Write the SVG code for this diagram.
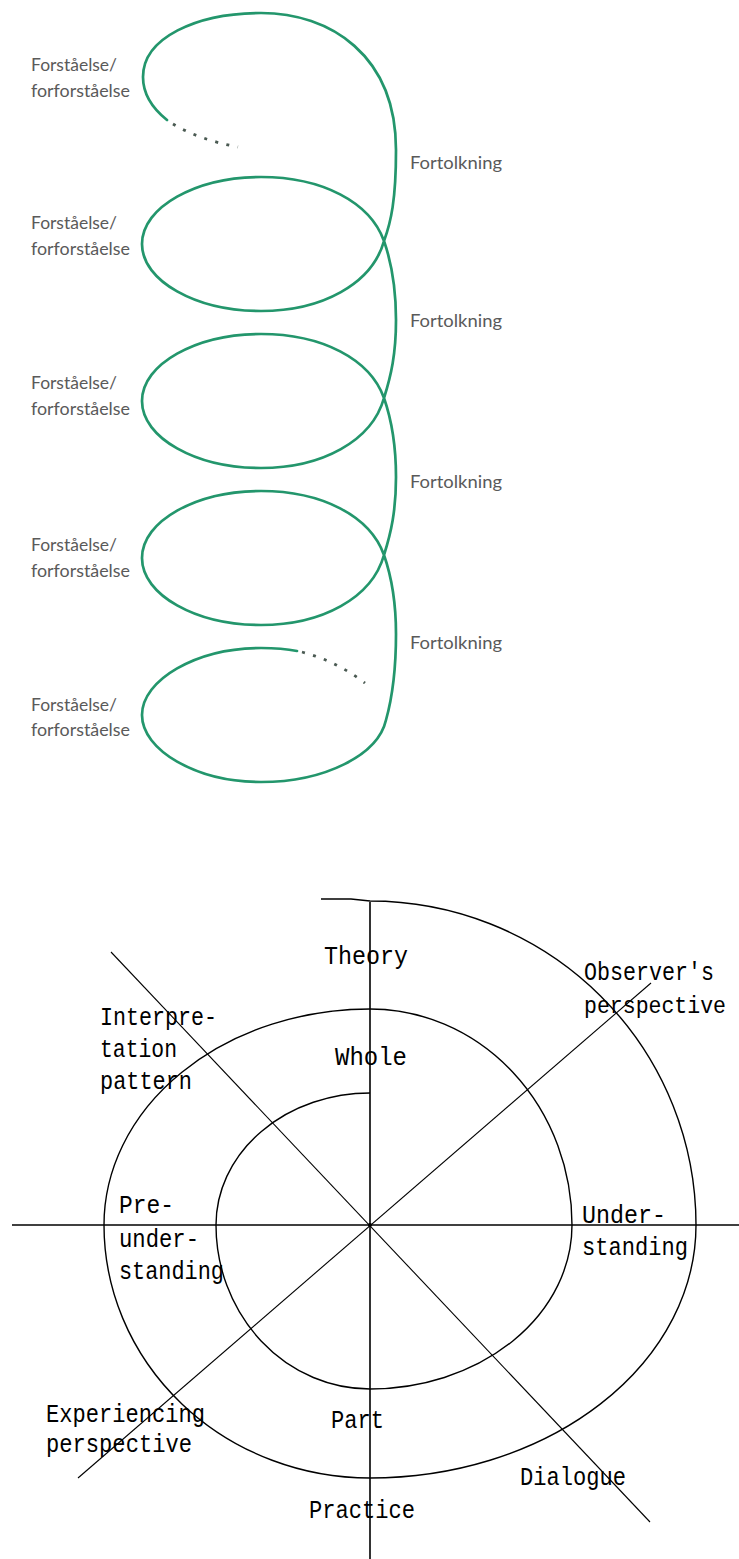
<svg xmlns="http://www.w3.org/2000/svg" width="739" height="1559" viewBox="0 0 739 1559">
<style>
.coil{fill:none;stroke:#23966c;stroke-width:2.7;stroke-linecap:round;stroke-linejoin:round}
.dots{fill:none;stroke:#4a5a52;stroke-width:2.8;stroke-dasharray:3 8.5}
.lbl{font-family:Lato,"Noto Sans","DejaVu Sans",sans-serif;font-size:16.5px;fill:#5a5a5a}
.ax{fill:none;stroke:#000;stroke-width:1.6}
.arc{fill:none;stroke:#000;stroke-width:1.4}
.diag{fill:none;stroke:#000;stroke-width:1.1}
.mono{font-family:"Liberation Mono","DejaVu Sans Mono",monospace;font-size:25px;fill:#000}
.edge{font-size:23.2px}
</style>
<rect width="739" height="1559" fill="#fff"/>

<g id="coil-diagram">
  <g id="coil">
    <path class="coil" d="M 167 120 C 152 108 143 95 143 77 C 143 38 196 13 261 13 C 330 13 396 55 396 150 C 396 200 391 222 384 241
      C 372 284 322 311 261 311 C 196 311 142 281 142 244 C 142 207 196 177 261 177 C 322 177 370 202 384 241
      C 392 264 396 289 396 320 C 396 354 391 376 384 398
      C 372 441 322 468 261 468 C 196 468 142 438 142 401 C 142 364 196 334 261 334 C 322 334 370 359 384 398
      C 392 421 396 446 396 477 C 396 511 391 533 384 555
      C 372 598 322 625 261 625 C 196 625 142 595 142 558 C 142 521 196 491 261 491 C 322 491 370 516 384 555
      C 392 578 396 603 396 634 C 396 670 393 695 386 720
      C 378 755 325 782 261 782 C 196 782 142 750 142 715 C 142 680 196 648 261 648 C 275 648 287 649 297 651"/>
    <path class="dots" d="M 173 124 Q 200 140 238 147"/>
    <path class="dots" d="M 302 652 Q 336 661 365 683"/>
  </g>
  <g id="forstaaelse-1"><text class="lbl" x="31" y="71" textLength="86" lengthAdjust="spacingAndGlyphs">Forståelse/</text><text class="lbl" x="31" y="97" textLength="99" lengthAdjust="spacingAndGlyphs">forforståelse</text></g>
  <g id="forstaaelse-2"><text class="lbl" x="31" y="229" textLength="86" lengthAdjust="spacingAndGlyphs">Forståelse/</text><text class="lbl" x="31" y="255" textLength="99" lengthAdjust="spacingAndGlyphs">forforståelse</text></g>
  <g id="forstaaelse-3"><text class="lbl" x="31" y="389" textLength="86" lengthAdjust="spacingAndGlyphs">Forståelse/</text><text class="lbl" x="31" y="415" textLength="99" lengthAdjust="spacingAndGlyphs">forforståelse</text></g>
  <g id="forstaaelse-4"><text class="lbl" x="31" y="551" textLength="86" lengthAdjust="spacingAndGlyphs">Forståelse/</text><text class="lbl" x="31" y="577" textLength="99" lengthAdjust="spacingAndGlyphs">forforståelse</text></g>
  <g id="forstaaelse-5"><text class="lbl" x="31" y="711" textLength="86" lengthAdjust="spacingAndGlyphs">Forståelse/</text><text class="lbl" x="31" y="736" textLength="99" lengthAdjust="spacingAndGlyphs">forforståelse</text></g>
  <g id="fortolkning-1"><text class="lbl" x="410" y="169" textLength="92" lengthAdjust="spacingAndGlyphs">Fortolkning</text></g>
  <g id="fortolkning-2"><text class="lbl" x="410" y="327" textLength="92" lengthAdjust="spacingAndGlyphs">Fortolkning</text></g>
  <g id="fortolkning-3"><text class="lbl" x="410" y="488" textLength="92" lengthAdjust="spacingAndGlyphs">Fortolkning</text></g>
  <g id="fortolkning-4"><text class="lbl" x="410" y="649" textLength="92" lengthAdjust="spacingAndGlyphs">Fortolkning</text></g>
</g>

<g id="hermeneutic-circle">
  <g id="axes">
    <path class="ax" d="M 12 1225 H 739"/>
    <path class="ax" d="M 370 902 V 1559"/>
    <path class="diag" d="M 111 952 L 650 1522"/>
    <path class="diag" d="M 651 983 L 78 1478"/>
    <circle cx="370" cy="1225" r="2" fill="#000"/>
  </g>
  <g id="spiral">
    <path class="arc" d="M 321 899 H 351 L 370 901 A 326 324 0 0 1 696 1225 A 326 253 0 0 1 370 1478 A 266 253 0 0 1 104 1225 A 266 216 0 0 1 370 1009 A 202 216 0 0 1 572 1225 A 202 164 0 0 1 370 1389 A 154 164 0 0 1 216 1225 A 154 132 0 0 1 370 1093"/>
  </g>
  <g id="theory"><text class="mono" x="324" y="964" textLength="84" lengthAdjust="spacingAndGlyphs">Theory</text></g>
  <g id="observers-perspective"><text class="mono" x="584" y="980" textLength="130" lengthAdjust="spacingAndGlyphs">Observer's</text><text class="mono edge" x="584" y="1013" textLength="142" lengthAdjust="spacingAndGlyphs">perspective</text></g>
  <g id="interpretation-pattern"><text class="mono" x="100" y="1025" textLength="117" lengthAdjust="spacingAndGlyphs">Interpre-</text><text class="mono" x="100" y="1057" textLength="77" lengthAdjust="spacingAndGlyphs">tation</text><text class="mono" x="100" y="1089" textLength="92" lengthAdjust="spacingAndGlyphs">pattern</text></g>
  <g id="whole"><text class="mono" x="335" y="1065" textLength="72" lengthAdjust="spacingAndGlyphs">Whole</text></g>
  <g id="pre-understanding"><text class="mono" x="119" y="1213" textLength="55" lengthAdjust="spacingAndGlyphs">Pre-</text><text class="mono" x="119" y="1247" textLength="80" lengthAdjust="spacingAndGlyphs">under-</text><text class="mono" x="119" y="1279" textLength="105" lengthAdjust="spacingAndGlyphs">standing</text></g>
  <g id="understanding"><text class="mono" x="582" y="1223" textLength="84" lengthAdjust="spacingAndGlyphs">Under-</text><text class="mono" x="582" y="1255" textLength="106" lengthAdjust="spacingAndGlyphs">standing</text></g>
  <g id="experiencing-perspective"><text class="mono" x="46" y="1422" textLength="159" lengthAdjust="spacingAndGlyphs">Experiencing</text><text class="mono" x="46" y="1452" textLength="146" lengthAdjust="spacingAndGlyphs">perspective</text></g>
  <g id="part"><text class="mono" x="331" y="1428" textLength="53" lengthAdjust="spacingAndGlyphs">Part</text></g>
  <g id="dialogue"><text class="mono" x="520" y="1485" textLength="106" lengthAdjust="spacingAndGlyphs">Dialogue</text></g>
  <g id="practice"><text class="mono" x="309" y="1518" textLength="106" lengthAdjust="spacingAndGlyphs">Practice</text></g>
</g>
</svg>
